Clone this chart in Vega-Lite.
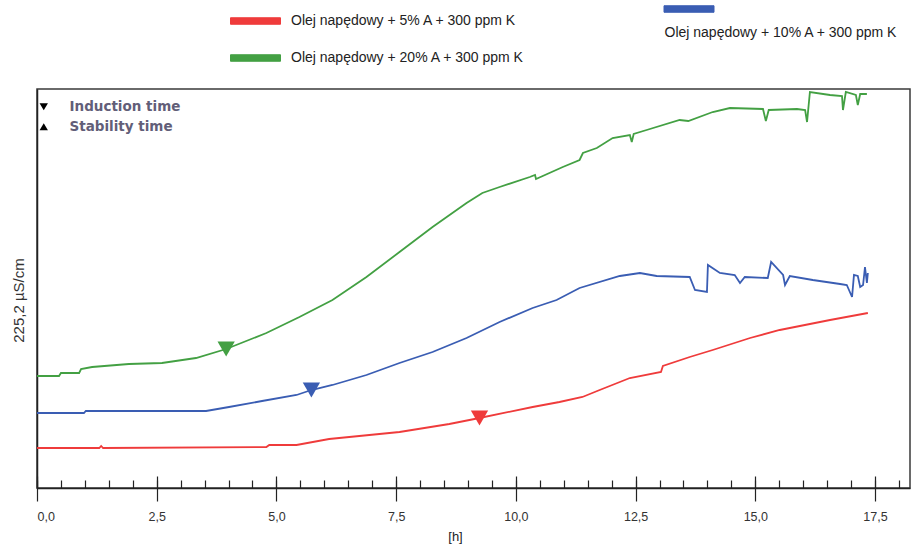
{
  "$schema": "https://vega.github.io/schema/vega-lite/v6.json",
  "width": 873,
  "height": 399,
  "autosize": {"type": "none"},
  "padding": {"left": 37, "top": 89, "right": 1, "bottom": 60},
  "background": "white",
  "config": {
    "view": {"stroke": "#3a3a3a", "strokeWidth": 1.5},
    "font": "Liberation Sans"
  },
  "datasets": {
    "series": [
      {"h": 0, "v": 40, "s": "Olej napędowy + 5% A + 300 ppm K"},
      {"h": 1.3, "v": 40, "s": "Olej napędowy + 5% A + 300 ppm K"},
      {"h": 1.34, "v": 42, "s": "Olej napędowy + 5% A + 300 ppm K"},
      {"h": 1.38, "v": 40, "s": "Olej napędowy + 5% A + 300 ppm K"},
      {"h": 4.79, "v": 41, "s": "Olej napędowy + 5% A + 300 ppm K"},
      {"h": 4.85, "v": 43, "s": "Olej napędowy + 5% A + 300 ppm K"},
      {"h": 5.42, "v": 43, "s": "Olej napędowy + 5% A + 300 ppm K"},
      {"h": 6.1, "v": 49, "s": "Olej napędowy + 5% A + 300 ppm K"},
      {"h": 6.52, "v": 51, "s": "Olej napędowy + 5% A + 300 ppm K"},
      {"h": 7.57, "v": 56, "s": "Olej napędowy + 5% A + 300 ppm K"},
      {"h": 8.61, "v": 64, "s": "Olej napędowy + 5% A + 300 ppm K"},
      {"h": 9.24, "v": 70, "s": "Olej napędowy + 5% A + 300 ppm K"},
      {"h": 10.35, "v": 81, "s": "Olej napędowy + 5% A + 300 ppm K"},
      {"h": 10.91, "v": 86, "s": "Olej napędowy + 5% A + 300 ppm K"},
      {"h": 11.39, "v": 91, "s": "Olej napędowy + 5% A + 300 ppm K"},
      {"h": 11.75, "v": 98, "s": "Olej napędowy + 5% A + 300 ppm K"},
      {"h": 12.38, "v": 110, "s": "Olej napędowy + 5% A + 300 ppm K"},
      {"h": 13.03, "v": 116, "s": "Olej napędowy + 5% A + 300 ppm K"},
      {"h": 13.07, "v": 122, "s": "Olej napędowy + 5% A + 300 ppm K"},
      {"h": 13.63, "v": 131, "s": "Olej napędowy + 5% A + 300 ppm K"},
      {"h": 14.11, "v": 138, "s": "Olej napędowy + 5% A + 300 ppm K"},
      {"h": 14.89, "v": 150, "s": "Olej napędowy + 5% A + 300 ppm K"},
      {"h": 15.51, "v": 158, "s": "Olej napędowy + 5% A + 300 ppm K"},
      {"h": 16.56, "v": 168, "s": "Olej napędowy + 5% A + 300 ppm K"},
      {"h": 17.35, "v": 175, "s": "Olej napędowy + 5% A + 300 ppm K"},

      {"h": 0, "v": 75, "s": "Olej napędowy + 10% A + 300 ppm K"},
      {"h": 0.98, "v": 75, "s": "Olej napędowy + 10% A + 300 ppm K"},
      {"h": 1.02, "v": 77, "s": "Olej napędowy + 10% A + 300 ppm K"},
      {"h": 3.53, "v": 77, "s": "Olej napędowy + 10% A + 300 ppm K"},
      {"h": 4.01, "v": 81, "s": "Olej napędowy + 10% A + 300 ppm K"},
      {"h": 4.7, "v": 87, "s": "Olej napędowy + 10% A + 300 ppm K"},
      {"h": 5.42, "v": 93, "s": "Olej napędowy + 10% A + 300 ppm K"},
      {"h": 5.73, "v": 98, "s": "Olej napędowy + 10% A + 300 ppm K"},
      {"h": 6.17, "v": 103, "s": "Olej napędowy + 10% A + 300 ppm K"},
      {"h": 6.88, "v": 113, "s": "Olej napędowy + 10% A + 300 ppm K"},
      {"h": 7.57, "v": 125, "s": "Olej napędowy + 10% A + 300 ppm K"},
      {"h": 8.26, "v": 136, "s": "Olej napędowy + 10% A + 300 ppm K"},
      {"h": 8.97, "v": 150, "s": "Olej napędowy + 10% A + 300 ppm K"},
      {"h": 9.66, "v": 166, "s": "Olej napędowy + 10% A + 300 ppm K"},
      {"h": 10.35, "v": 180, "s": "Olej napędowy + 10% A + 300 ppm K"},
      {"h": 10.85, "v": 188, "s": "Olej napędowy + 10% A + 300 ppm K"},
      {"h": 11.33, "v": 200, "s": "Olej napędowy + 10% A + 300 ppm K"},
      {"h": 12.17, "v": 212, "s": "Olej napędowy + 10% A + 300 ppm K"},
      {"h": 12.59, "v": 215, "s": "Olej napędowy + 10% A + 300 ppm K"},
      {"h": 12.94, "v": 212, "s": "Olej napędowy + 10% A + 300 ppm K"},
      {"h": 13.63, "v": 211, "s": "Olej napędowy + 10% A + 300 ppm K"},
      {"h": 13.74, "v": 198, "s": "Olej napędowy + 10% A + 300 ppm K"},
      {"h": 13.99, "v": 196, "s": "Olej napędowy + 10% A + 300 ppm K"},
      {"h": 14.01, "v": 223, "s": "Olej napędowy + 10% A + 300 ppm K"},
      {"h": 14.26, "v": 215, "s": "Olej napędowy + 10% A + 300 ppm K"},
      {"h": 14.57, "v": 213, "s": "Olej napędowy + 10% A + 300 ppm K"},
      {"h": 14.68, "v": 205, "s": "Olej napędowy + 10% A + 300 ppm K"},
      {"h": 14.78, "v": 211, "s": "Olej napędowy + 10% A + 300 ppm K"},
      {"h": 15.26, "v": 210, "s": "Olej napędowy + 10% A + 300 ppm K"},
      {"h": 15.33, "v": 226, "s": "Olej napędowy + 10% A + 300 ppm K"},
      {"h": 15.58, "v": 213, "s": "Olej napędowy + 10% A + 300 ppm K"},
      {"h": 15.62, "v": 203, "s": "Olej napędowy + 10% A + 300 ppm K"},
      {"h": 15.72, "v": 212, "s": "Olej napędowy + 10% A + 300 ppm K"},
      {"h": 16.2, "v": 208, "s": "Olej napędowy + 10% A + 300 ppm K"},
      {"h": 16.77, "v": 204, "s": "Olej napędowy + 10% A + 300 ppm K"},
      {"h": 16.91, "v": 203, "s": "Olej napędowy + 10% A + 300 ppm K"},
      {"h": 17.02, "v": 191, "s": "Olej napędowy + 10% A + 300 ppm K"},
      {"h": 17.06, "v": 213, "s": "Olej napędowy + 10% A + 300 ppm K"},
      {"h": 17.14, "v": 212, "s": "Olej napędowy + 10% A + 300 ppm K"},
      {"h": 17.19, "v": 201, "s": "Olej napędowy + 10% A + 300 ppm K"},
      {"h": 17.25, "v": 203, "s": "Olej napędowy + 10% A + 300 ppm K"},
      {"h": 17.29, "v": 221, "s": "Olej napędowy + 10% A + 300 ppm K"},
      {"h": 17.33, "v": 205, "s": "Olej napędowy + 10% A + 300 ppm K"},
      {"h": 17.35, "v": 215, "s": "Olej napędowy + 10% A + 300 ppm K"},

      {"h": 0, "v": 112, "s": "Olej napędowy + 20% A + 300 ppm K"},
      {"h": 0.46, "v": 112, "s": "Olej napędowy + 20% A + 300 ppm K"},
      {"h": 0.5, "v": 115, "s": "Olej napędowy + 20% A + 300 ppm K"},
      {"h": 0.88, "v": 115, "s": "Olej napędowy + 20% A + 300 ppm K"},
      {"h": 0.92, "v": 119, "s": "Olej napędowy + 20% A + 300 ppm K"},
      {"h": 1.15, "v": 121, "s": "Olej napędowy + 20% A + 300 ppm K"},
      {"h": 1.92, "v": 124, "s": "Olej napędowy + 20% A + 300 ppm K"},
      {"h": 2.61, "v": 125, "s": "Olej napędowy + 20% A + 300 ppm K"},
      {"h": 3.32, "v": 130, "s": "Olej napędowy + 20% A + 300 ppm K"},
      {"h": 3.95, "v": 139, "s": "Olej napędowy + 20% A + 300 ppm K"},
      {"h": 4.79, "v": 155, "s": "Olej napędowy + 20% A + 300 ppm K"},
      {"h": 5.48, "v": 171, "s": "Olej napędowy + 20% A + 300 ppm K"},
      {"h": 6.17, "v": 188, "s": "Olej napędowy + 20% A + 300 ppm K"},
      {"h": 6.88, "v": 211, "s": "Olej napędowy + 20% A + 300 ppm K"},
      {"h": 7.57, "v": 236, "s": "Olej napędowy + 20% A + 300 ppm K"},
      {"h": 8.26, "v": 261, "s": "Olej napędowy + 20% A + 300 ppm K"},
      {"h": 8.97, "v": 285, "s": "Olej napędowy + 20% A + 300 ppm K"},
      {"h": 9.3, "v": 295, "s": "Olej napędowy + 20% A + 300 ppm K"},
      {"h": 9.66, "v": 301, "s": "Olej napędowy + 20% A + 300 ppm K"},
      {"h": 10.29, "v": 311, "s": "Olej napędowy + 20% A + 300 ppm K"},
      {"h": 10.4, "v": 313, "s": "Olej napędowy + 20% A + 300 ppm K"},
      {"h": 10.42, "v": 309, "s": "Olej napędowy + 20% A + 300 ppm K"},
      {"h": 10.98, "v": 321, "s": "Olej napędowy + 20% A + 300 ppm K"},
      {"h": 11.33, "v": 328, "s": "Olej napędowy + 20% A + 300 ppm K"},
      {"h": 11.4, "v": 335, "s": "Olej napędowy + 20% A + 300 ppm K"},
      {"h": 11.69, "v": 340, "s": "Olej napędowy + 20% A + 300 ppm K"},
      {"h": 12.02, "v": 350, "s": "Olej napędowy + 20% A + 300 ppm K"},
      {"h": 12.38, "v": 353, "s": "Olej napędowy + 20% A + 300 ppm K"},
      {"h": 12.42, "v": 346, "s": "Olej napędowy + 20% A + 300 ppm K"},
      {"h": 12.46, "v": 354, "s": "Olej napędowy + 20% A + 300 ppm K"},
      {"h": 12.73, "v": 358, "s": "Olej napędowy + 20% A + 300 ppm K"},
      {"h": 13.42, "v": 368, "s": "Olej napędowy + 20% A + 300 ppm K"},
      {"h": 13.6, "v": 367, "s": "Olej napędowy + 20% A + 300 ppm K"},
      {"h": 14.11, "v": 376, "s": "Olej napędowy + 20% A + 300 ppm K"},
      {"h": 14.47, "v": 380, "s": "Olej napędowy + 20% A + 300 ppm K"},
      {"h": 15.16, "v": 379, "s": "Olej napędowy + 20% A + 300 ppm K"},
      {"h": 15.22, "v": 367, "s": "Olej napędowy + 20% A + 300 ppm K"},
      {"h": 15.28, "v": 378, "s": "Olej napędowy + 20% A + 300 ppm K"},
      {"h": 15.87, "v": 379, "s": "Olej napędowy + 20% A + 300 ppm K"},
      {"h": 16.04, "v": 378, "s": "Olej napędowy + 20% A + 300 ppm K"},
      {"h": 16.08, "v": 366, "s": "Olej napędowy + 20% A + 300 ppm K"},
      {"h": 16.14, "v": 396, "s": "Olej napędowy + 20% A + 300 ppm K"},
      {"h": 16.56, "v": 393, "s": "Olej napędowy + 20% A + 300 ppm K"},
      {"h": 16.81, "v": 392, "s": "Olej napędowy + 20% A + 300 ppm K"},
      {"h": 16.83, "v": 378, "s": "Olej napędowy + 20% A + 300 ppm K"},
      {"h": 16.89, "v": 396, "s": "Olej napędowy + 20% A + 300 ppm K"},
      {"h": 17.1, "v": 393, "s": "Olej napędowy + 20% A + 300 ppm K"},
      {"h": 17.14, "v": 383, "s": "Olej napędowy + 20% A + 300 ppm K"},
      {"h": 17.19, "v": 394, "s": "Olej napędowy + 20% A + 300 ppm K"},
      {"h": 17.33, "v": 394, "s": "Olej napędowy + 20% A + 300 ppm K"}
    ],
    "markers": [
      {"h": 3.95, "v": 139, "s": "Olej napędowy + 20% A + 300 ppm K", "event": "Induction time"},
      {"h": 5.73, "v": 98, "s": "Olej napędowy + 10% A + 300 ppm K", "event": "Induction time"},
      {"h": 9.24, "v": 70, "s": "Olej napędowy + 5% A + 300 ppm K", "event": "Induction time"}
    ]
  },
  "layer": [
    {
      "data": {"name": "series"},
      "mark": {"type": "line", "strokeWidth": 1.8, "interpolate": "linear"},
      "encoding": {
        "x": {
          "field": "h", "type": "quantitative",
          "scale": {"domain": [0, 18.23], "nice": false, "zero": false},
          "axis": {
            "orient": "bottom",
            "values": [0, 2.5, 5, 7.5, 10, 12.5, 15, 17.5],
            "domain": false, "grid": false,
            "offset": -12, "tickSize": 25, "tickColor": "#222", "tickWidth": 1.2,
            "labelExpr": "replace(format(datum.value, '.1f'), '.', ',')",
            "labelFont": "Liberation Sans", "labelFontSize": 12.5, "labelColor": "#333",
            "labelPadding": 9,
            "title": "[h]", "titleFont": "Liberation Sans", "titleFontSize": 13,
            "titleFontWeight": "normal", "titleColor": "#222", "titlePadding": 8, "titleX": 418
          }
        },
        "y": {
          "field": "v", "type": "quantitative",
          "scale": {"domain": [0, 399], "nice": false},
          "axis": {
            "ticks": false, "labels": false, "grid": false,
            "domainColor": "#222", "domainWidth": 1.5,
            "title": "225,2 µS/cm", "titleFont": "Liberation Sans", "titleFontSize": 15,
            "titleFontWeight": "normal", "titleColor": "#333", "titlePadding": 11, "titleY": 211
          }
        },
        "color": {
          "field": "s", "type": "nominal",
          "scale": {
            "domain": ["Olej napędowy + 5% A + 300 ppm K", "Olej napędowy + 20% A + 300 ppm K", "Olej napędowy + 10% A + 300 ppm K"],
            "range": ["#ef3b3b", "#43a043", "#3a5db3"]
          },
          "legend": {
            "orient": "none", "legendX": 205.5, "legendY": -93,
            "title": null, "columns": 2, "columnPadding": 137.5, "rowPadding": 5,
            "symbolType": "M-2,-0.26H2V0.26H-2Z", "symbolSize": 625,
            "labelFont": "Liberation Sans", "labelFontSize": 14, "labelColor": "#222",
            "labelOffset": 22.5, "labelLimit": 400,
            "encode": {
              "symbols": {
                "update": {
                  "fill": {"scale": "color", "field": "value"},
                  "stroke": {"value": "#333"},
                  "strokeWidth": {"value": 1}
                }
              },
              "labels": {
                "update": {
                  "dx": {"signal": "indexof(datum.value, '10%') >= 0 ? -60 : 0"},
                  "dy": {"signal": "indexof(datum.value, '10%') >= 0 ? 24 : 0"}
                }
              }
            }
          }
        }
      }
    },
    {
      "data": {"name": "markers"},
      "mark": {"type": "point", "filled": true, "opacity": 1, "size": 300},
      "encoding": {
        "x": {
          "field": "h", "type": "quantitative",
          "axis": {
            "orient": "bottom",
            "values": [0, 0.5, 1, 1.5, 2, 2.5, 3, 3.5, 4, 4.5, 5, 5.5, 6, 6.5, 7, 7.5, 8, 8.5, 9, 9.5, 10, 10.5, 11, 11.5, 12, 12.5, 13, 13.5, 14, 14.5, 15, 15.5, 16, 16.5, 17, 17.5, 18],
            "domain": true, "domainColor": "#222", "domainWidth": 1.5,
            "grid": false, "labels": false, "title": null,
            "tickSize": -8, "tickColor": "#222", "tickWidth": 1.2
          }
        },
        "y": {"field": "v", "type": "quantitative"},
        "color": {
          "field": "s", "type": "nominal",
          "scale": {
            "domain": ["Olej napędowy + 5% A + 300 ppm K", "Olej napędowy + 20% A + 300 ppm K", "Olej napędowy + 10% A + 300 ppm K"]
          }
        },
        "shape": {
          "field": "event", "type": "nominal",
          "scale": {"domain": ["Induction time", "Stability time"], "range": ["triangle-down", "triangle-up"]},
          "legend": {
            "orient": "none", "legendX": 0, "legendY": 11,
            "title": null, "symbolSize": 70, "rowPadding": 5,
            "labelFont": "DejaVu Sans", "labelFontSize": 13.5, "labelFontWeight": "bold",
            "labelColor": "#625e78", "labelOffset": 19,
            "encode": {
              "symbols": {
                "update": {
                  "fill": {"value": "#111"},
                  "stroke": {"value": "#111"},
                  "opacity": {"value": 1}
                }
              }
            }
          }
        }
      }
    }
  ],
  "resolve": {"axis": {"x": "independent"}}
}
